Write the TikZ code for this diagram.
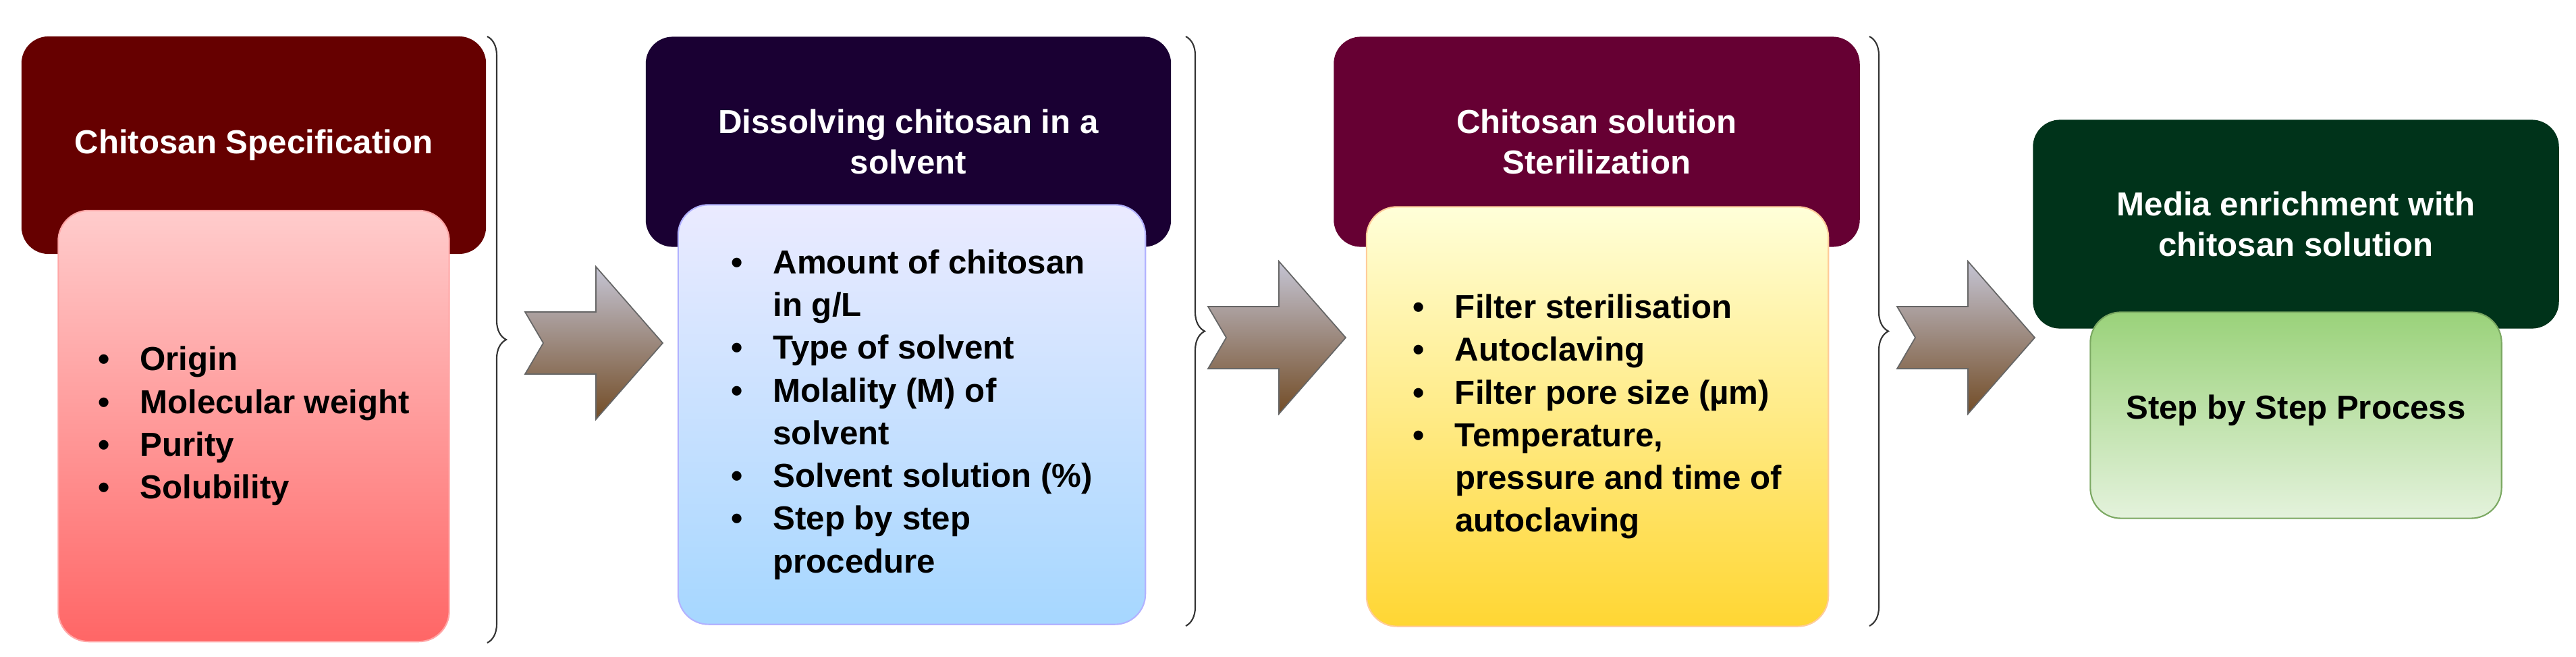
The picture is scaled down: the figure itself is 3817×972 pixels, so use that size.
\documentclass[tikz,border=0pt]{standalone}
\usepackage{fontspec}
\setmainfont{Liberation Sans}
\usetikzlibrary{decorations.pathreplacing}
\definecolor{redA}{HTML}{660000}
\definecolor{blueA}{HTML}{1A0033}
\definecolor{plumA}{HTML}{660033}
\definecolor{greenA}{HTML}{00331A}
\definecolor{greenB}{HTML}{9AD27A}
\definecolor{greenC}{HTML}{E4F2DC}
\tikzset{
  head/.style={rounded corners=0.4cm, text=white, align=center, font=\fontsize{14}{17}\selectfont\bfseries, inner sep=0},
  body/.style={rounded corners=0.45cm, draw=#1, line width=0.6pt, inner sep=0},
  items/.style={font=\fontsize{14}{18}\selectfont\bfseries, align=left, inner sep=0},
  brace/.style={decorate, decoration={brace, amplitude=0.28cm}, line width=0.6pt, draw=black!80},
}
\newcommand{\stepitems}[1]{\begin{tabular}{@{}l@{\hspace{0.45cm}}l@{}}#1\end{tabular}}
\begin{document}
\begin{tikzpicture}[x=0.01cm, y=-0.01cm]
  \useasboundingbox (0,0) rectangle (3817,972);
  % stage 1
  \node[head, fill=redA, minimum width=6.88cm, minimum height=3.22cm] (h1) at (376,215) {Chitosan Specification};
  \node[body=red!35, top color=red!20, bottom color=red!60!white, minimum width=5.79cm, minimum height=6.38cm] (b1) at (376,631) {};
  \node[items] (i1) at (b1.center) {\stepitems{\textbullet & Origin\\ \textbullet & Molecular weight\\ \textbullet & Purity\\ \textbullet & Solubility}};
  \draw[brace] (722,54) -- (722,952);
  % stage 2
  \node[head, fill=blueA, minimum width=7.78cm, minimum height=3.11cm] (h2) at (1346,210) {Dissolving chitosan in a\\solvent};
  \node[body=blue!30, top color=blue!8, bottom color=blue!45!cyan!35!white, minimum width=6.92cm, minimum height=6.21cm] (b2) at (1351,614) {};
  \node[items] (i2) at (b2.center) {\stepitems{\textbullet & Amount of chitosan\\ & in g/L\\ \textbullet & Type of solvent\\ \textbullet & Molality (M) of\\ & solvent\\ \textbullet & Solvent solution (\%)\\ \textbullet & Step by step\\ & procedure}};
  \draw[brace] (1757,54) -- (1757,927);
  % stage 3
  \node[head, fill=plumA, minimum width=7.79cm, minimum height=3.11cm] (h3) at (2366,210) {Chitosan solution\\Sterilization};
  \node[body=orange!40, top color=yellow!15!white, bottom color=yellow!60!orange!80!white, minimum width=6.84cm, minimum height=6.21cm] (b3) at (2367,617) {};
  \node[items] (i3) at (b3.center) {\stepitems{\textbullet & Filter sterilisation\\ \textbullet & Autoclaving\\ \textbullet & Filter pore size (µm)\\ \textbullet & Temperature,\\ & pressure and time of\\ & autoclaving}};
  \draw[brace] (2770,54) -- (2770,927);
  % stage 4
  \node[head, fill=greenA, minimum width=7.79cm, minimum height=3.09cm] (h4) at (3402,332) {Media enrichment with\\chitosan solution};
  \node[body=greenB!80!black, top color=greenB, bottom color=greenC, minimum width=6.09cm, minimum height=3.05cm] (b4) at (3402,615) {};
  \node[items] (i4) at (3402,608) {Step by Step Process};
  % arrows between stages
  \foreach \ax/\ay in {778/508, 1790/500, 2811/500}
    \draw[draw=black!60, line width=0.5pt, top color=blue!15!gray!40, bottom color=brown!60!black]
      (\ax,\ay-46) -- ++(105,0) -- ++(0,-67) -- ++(99,113) -- ++(-99,113) -- ++(0,-67) -- ++(-105,0) -- ++(27,-46) -- cycle;
\end{tikzpicture}
\end{document}
